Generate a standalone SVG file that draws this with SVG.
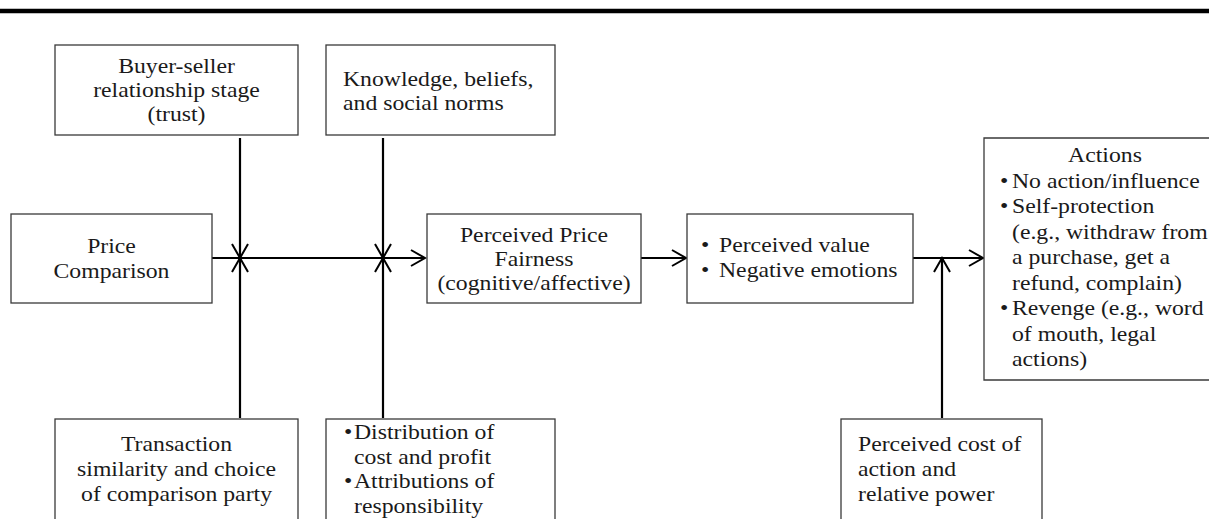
<svg xmlns="http://www.w3.org/2000/svg" width="1221" height="519" viewBox="0 0 1221 519">
<style>
.box{fill:#fff;stroke:#3a3a3a;stroke-width:1.3}
.t{font-family:"Liberation Serif","Times New Roman",serif;font-size:21px;fill:#1a1a1a}
.c{fill:none;stroke:#000;stroke-width:2.2}
</style>
<defs>
<marker id="ah" viewBox="-15 -9 17 18" refX="0" refY="0" markerWidth="17" markerHeight="18" markerUnits="userSpaceOnUse" orient="auto">
<path d="M-14,-8 L0,0 L-14,8" fill="none" stroke="#000" stroke-width="2"/>
</marker>
</defs>
<rect width="1221" height="519" fill="#fff"/>
<line x1="0" y1="11" x2="1209" y2="11" stroke="#000" stroke-width="4.5"/>

<g id="connectors">
<line class="c" x1="212" y1="258" x2="425" y2="258" marker-end="url(#ah)"/>
<line class="c" x1="240" y1="138" x2="240" y2="258" marker-end="url(#ah)"/>
<line class="c" x1="240" y1="418" x2="240" y2="258" marker-end="url(#ah)"/>
<line class="c" x1="383" y1="138" x2="383" y2="258" marker-end="url(#ah)"/>
<line class="c" x1="383" y1="418" x2="383" y2="258" marker-end="url(#ah)"/>
<line class="c" x1="641" y1="258" x2="686" y2="258" marker-end="url(#ah)"/>
<line class="c" x1="913" y1="258" x2="983" y2="258" marker-end="url(#ah)"/>
<line class="c" x1="942" y1="418" x2="942" y2="258" marker-end="url(#ah)"/>
</g>

<g id="buyer-seller">
<rect class="box" x="55" y="45" width="243" height="90"/>
<text class="t" text-anchor="middle" transform="translate(176.5 0) scale(1.13 1)"><tspan x="0" y="73">Buyer-seller</tspan><tspan x="0" y="97">relationship stage</tspan><tspan x="0" y="121">(trust)</tspan></text>
</g>

<g id="knowledge">
<rect class="box" x="326" y="45" width="229" height="90"/>
<text class="t" transform="translate(343 0) scale(1.13 1)"><tspan x="0" y="86">Knowledge, beliefs,</tspan><tspan x="0" y="110">and social norms</tspan></text>
</g>

<g id="price-comparison">
<rect class="box" x="11" y="214" width="201" height="89"/>
<text class="t" text-anchor="middle" transform="translate(111.5 0) scale(1.13 1)"><tspan x="0" y="253">Price</tspan><tspan x="0" y="278">Comparison</tspan></text>
</g>

<g id="price-fairness">
<rect class="box" x="427" y="214" width="214" height="89"/>
<text class="t" text-anchor="middle" transform="translate(534 0) scale(1.13 1)"><tspan x="0" y="242">Perceived Price</tspan><tspan x="0" y="266">Fairness</tspan><tspan x="0" y="290">(cognitive/affective)</tspan></text>
</g>

<g id="value-emotions">
<rect class="box" x="687" y="214" width="226" height="89"/>
<text class="t" transform="translate(701 0) scale(1.13 1)"><tspan x="0" y="252">•</tspan><tspan x="0" y="277">•</tspan></text>
<text class="t" transform="translate(719 0) scale(1.13 1)"><tspan x="0" y="252">Perceived value</tspan><tspan x="0" y="277">Negative emotions</tspan></text>
</g>

<g id="actions">
<path d="M1209,138 H984 V380 H1209" fill="#fff" stroke="#3a3a3a" stroke-width="1.3"/>
<text class="t" text-anchor="middle" transform="translate(1105 0) scale(1.13 1)"><tspan x="0" y="162.5">Actions</tspan></text>
<text class="t" transform="translate(1000 0) scale(1.13 1)"><tspan x="0" y="188">•</tspan><tspan x="0" y="213.5">•</tspan><tspan x="0" y="315.5">•</tspan></text>
<text class="t" transform="translate(1012 0) scale(1.13 1)"><tspan x="0" y="188">No action/influence</tspan><tspan x="0" y="213.5">Self-protection</tspan><tspan x="0" y="239">(e.g., withdraw from</tspan><tspan x="0" y="264.5">a purchase, get a</tspan><tspan x="0" y="290">refund, complain)</tspan><tspan x="0" y="315.5">Revenge (e.g., word</tspan><tspan x="0" y="341">of mouth, legal</tspan><tspan x="0" y="366.5">actions)</tspan></text>
</g>

<g id="transaction">
<rect class="box" x="55" y="419" width="243" height="115"/>
<text class="t" text-anchor="middle" transform="translate(176.5 0) scale(1.13 1)"><tspan x="0" y="451">Transaction</tspan><tspan x="0" y="476">similarity and choice</tspan><tspan x="0" y="501">of comparison party</tspan></text>
</g>

<g id="distribution">
<rect class="box" x="326" y="419" width="229" height="115"/>
<text class="t" transform="translate(344 0) scale(1.13 1)"><tspan x="0" y="439">•</tspan><tspan x="0" y="488">•</tspan></text>
<text class="t" transform="translate(354 0) scale(1.13 1)"><tspan x="0" y="439">Distribution of</tspan><tspan x="0" y="464">cost and profit</tspan><tspan x="0" y="488">Attributions of</tspan><tspan x="0" y="513">responsibility</tspan></text>
</g>

<g id="perceived-cost">
<rect class="box" x="841" y="419" width="201" height="115"/>
<text class="t" transform="translate(858 0) scale(1.13 1)"><tspan x="0" y="451">Perceived cost of</tspan><tspan x="0" y="476">action and</tspan><tspan x="0" y="501">relative power</tspan></text>
</g>
</svg>
